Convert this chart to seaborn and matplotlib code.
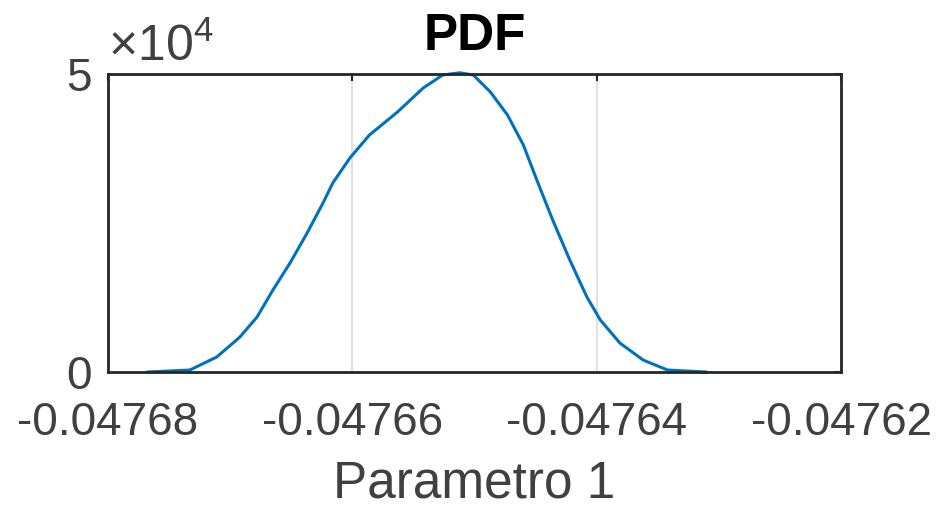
import matplotlib
matplotlib.use("Agg")
import matplotlib.pyplot as plt
import matplotlib.ticker as mticker
import seaborn as sns
import pandas as pd

# Data (KDE curve)
param_values = [-0.0476768, -0.0476733, -0.0476711, -0.0476692, -0.0476678, -0.0476665,
                -0.0476651, -0.0476637, -0.0476624, -0.0476616, -0.0476602, -0.0476586,
                -0.0476563, -0.0476542, -0.0476526, -0.0476512, -0.0476501, -0.0476487,
                -0.0476473, -0.0476460, -0.0476449, -0.0476436, -0.0476422, -0.0476408,
                -0.0476397, -0.0476381, -0.0476362, -0.0476342, -0.0476310]
pdf_values = [0, 336, 2517, 5872, 9228, 13758, 18289, 23322, 28356, 31711, 35906, 39765,
              43624, 47651, 49832, 50200, 49832, 46980, 43121, 38087, 32215, 25503, 18792,
              12584, 8725, 4866, 2013, 336, 0]
x_ticks = [-0.04768, -0.04766, -0.04764, -0.04762]
x_tick_labels = ["-0.04768", "-0.04766", "-0.04764", "-0.04762"]
y_ticks = [0, 50000]
title = "PDF"
x_label = "Parametro 1"

sns.set_style("white")
plt.rcParams["font.family"] = ["Liberation Sans", "DejaVu Sans"]
plt.rcParams["mathtext.fontset"] = "custom"
plt.rcParams["mathtext.rm"] = "Liberation Sans"
plt.rcParams["mathtext.it"] = "Liberation Sans"

df = pd.DataFrame({"x": param_values, "y": pdf_values})

fig = plt.figure(figsize=(9.44, 5.12), dpi=100)
ax = fig.add_axes([0.1144, 0.2734, 0.7765, 0.5821])

sns.lineplot(data=df, x="x", y="y", ax=ax, color="#0072BD", linewidth=2.2,
             sort=False, clip_on=False)

ax.set_xlim(-0.04768, -0.04762)
ax.set_ylim(0, 50000)
ax.set_xticks(x_ticks)
ax.set_xticklabels(x_tick_labels)
ax.set_yticks(y_ticks)

fmt = mticker.ScalarFormatter(useMathText=True)
fmt.set_powerlimits((0, 0))
ax.yaxis.set_major_formatter(fmt)
ax.yaxis.OFFSETTEXTPAD = 9
ax.yaxis.get_offset_text().set_fontsize(36)
ax.yaxis.get_offset_text().set_color("#404040")

ax.xaxis.grid(True, color="#DCDCDC", linewidth=1.2)
ax.yaxis.grid(False)
ax.set_axisbelow(True)

for s in ax.spines.values():
    s.set_visible(True)
    s.set_color("#262626")
    s.set_linewidth(2.0)

ax.tick_params(axis="both", direction="in", length=5, width=1.5, color="#262626",
               labelsize=33, labelcolor="#404040", top=True, right=True)
ax.tick_params(axis="x", pad=21)
ax.tick_params(axis="y", pad=12)

ax.set_xlabel(x_label, fontsize=37, color="#404040", labelpad=10)
ax.set_ylabel("")
ax.set_title(title, fontsize=37, fontweight="bold", color="black", pad=17)

fig.savefig("out.png", dpi=100, facecolor="white")
